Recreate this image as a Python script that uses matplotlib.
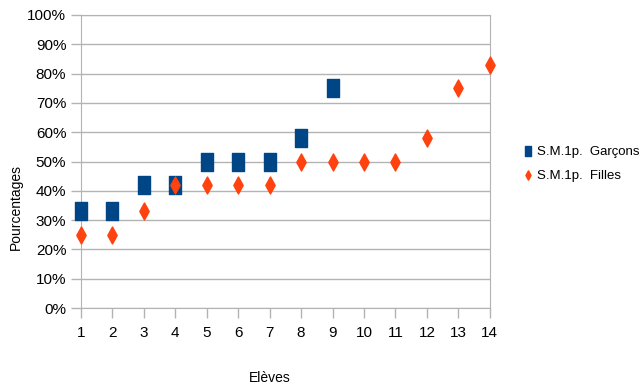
import matplotlib
matplotlib.use("Agg")
import matplotlib.pyplot as plt
from matplotlib.path import Path
from matplotlib.ticker import FuncFormatter

eleves_g = [1, 2, 3, 4, 5, 6, 7, 8, 9]
garcons = [33, 33, 42, 42, 50, 50, 50, 58, 75]
eleves_f = [1, 2, 3, 4, 5, 6, 7, 8, 9, 10, 11, 12, 13, 14]
filles = [25, 25, 33, 42, 42, 42, 42, 50, 50, 50, 50, 58, 75, 83]

BLUE = "#004586"
ORANGE = "#ff420e"
GRID = "#b3b3b3"

plt.rcParams["font.family"] = ["Liberation Sans", "DejaVu Sans"]

# tall rectangle / thin diamond, like the office-suite markers
rect = Path([(-0.72, -1), (0.72, -1), (0.72, 1), (-0.72, 1), (-0.72, -1)],
            [Path.MOVETO, Path.LINETO, Path.LINETO, Path.LINETO, Path.CLOSEPOLY])
diam = Path([(0, -1), (0.55, 0), (0, 1), (-0.55, 0), (0, -1)],
            [Path.MOVETO, Path.LINETO, Path.LINETO, Path.LINETO, Path.CLOSEPOLY])

fig = plt.figure(figsize=(6.42, 3.92), dpi=100)
ax = fig.add_axes([0.126, 0.214, 0.637, 0.748])

ax.scatter(eleves_g, garcons, marker=rect, s=150, color=BLUE, zorder=3,
           label="S.M.1p.  Garçons", clip_on=False)
ax.scatter(eleves_f, filles, marker=diam, s=150, color=ORANGE, zorder=4,
           label="S.M.1p.  Filles", clip_on=False)

ax.set_xlim(1, 14)
ax.set_ylim(0, 100)
ax.set_xticks(range(1, 15))
ax.set_yticks(range(0, 101, 10))
ax.yaxis.set_major_formatter(FuncFormatter(lambda v, p: f"{int(v)}%"))
ax.grid(axis="y", color=GRID, linewidth=1)
ax.set_axisbelow(True)
for s in ax.spines.values():
    s.set_color(GRID)
ax.tick_params(axis="both", colors=GRID, length=7, width=1, labelsize=11,
               labelcolor="black")
ax.tick_params(axis="x", pad=6)

fig.text(0.024, 0.472, "Pourcentages", rotation=90, ha="center", va="center", fontsize=10)
fig.text(0.42, 0.036, "Elèves", ha="center", va="center", fontsize=10)

leg = fig.legend(loc="center left", bbox_to_anchor=(0.812, 0.583), frameon=False,
                 fontsize=9.5, handletextpad=0.2, labelspacing=0.9, markerscale=0.55,
                 borderaxespad=0, borderpad=0, handlelength=1.0)

fig.savefig("out.png", dpi=100)
